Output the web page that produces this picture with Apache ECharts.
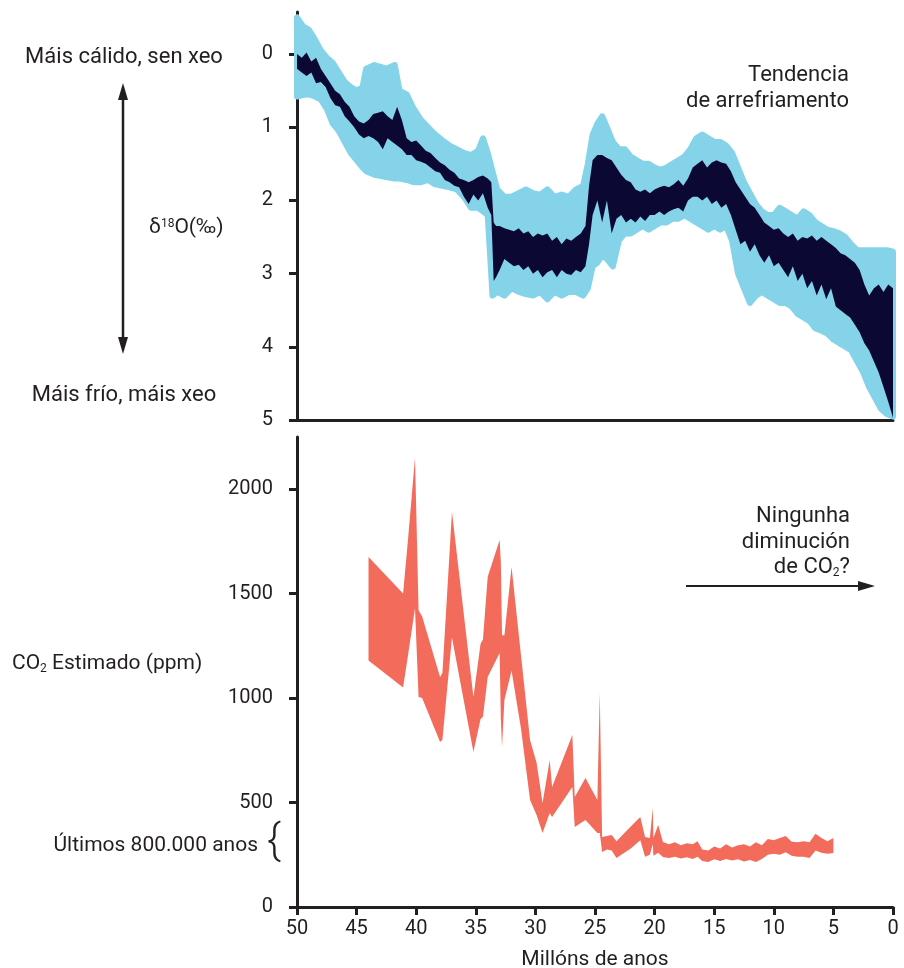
<!DOCTYPE html>
<html>
<head>
<meta charset="utf-8">
<script src="https://cdn.jsdelivr.net/npm/echarts@6/dist/echarts.min.js"></script>
<style>
html,body{margin:0;padding:0;background:#fff;}
#chart{width:904px;height:968px;}
</style>
</head>
<body>
<div id="chart"></div>
<script>
// ---------- δ18O dark (navy) band ----------
const navyAges = [50.0,49.6,49.2,48.8,48.4,48.0,47.6,47.2,46.8,46.4,46.0,45.6,45.2,44.8,44.4,44.0,43.6,43.2,42.8,42.4,42.0,41.6,41.2,40.8,40.4,40.0,39.6,39.2,38.8,38.4,38.0,37.6,37.2,36.8,36.4,36.0,35.6,35.2,34.8,34.4,34.0,33.7,33.5,33.3,33.0,32.6,32.2,31.8,31.4,31.0,30.6,30.2,29.8,29.4,29.0,28.6,28.2,27.8,27.4,27.0,26.6,26.2,25.8,25.5,25.2,24.8,24.4,24.0,23.6,23.2,22.8,22.4,22.0,21.6,21.2,20.8,20.4,20.0,19.6,19.2,18.8,18.4,18.0,17.6,17.2,16.8,16.4,16.0,15.6,15.2,14.8,14.4,14.0,13.6,13.2,12.8,12.4,12.0,11.6,11.2,10.8,10.4,10.0,9.6,9.2,8.8,8.4,8.0,7.6,7.2,6.8,6.4,6.0,5.6,5.2,4.8,4.4,4.0,3.6,3.2,2.8,2.4,2.0,1.6,1.2,0.8,0.4,0.0];
const navyTop = [0.0,0.05,-0.02,0.1,0.05,0.2,0.3,0.4,0.5,0.55,0.65,0.72,0.85,0.92,0.95,0.9,0.82,0.8,0.78,0.85,0.9,0.72,0.9,1.15,1.2,1.18,1.25,1.32,1.35,1.42,1.48,1.52,1.58,1.62,1.7,1.72,1.75,1.72,1.68,1.66,1.7,1.75,2.3,2.35,2.35,2.38,2.4,2.42,2.38,2.45,2.42,2.5,2.45,2.48,2.45,2.55,2.5,2.6,2.52,2.55,2.5,2.45,2.35,1.8,1.45,1.38,1.38,1.42,1.45,1.55,1.65,1.72,1.75,1.85,1.88,1.85,1.9,1.85,1.82,1.8,1.82,1.78,1.72,1.8,1.7,1.55,1.5,1.45,1.55,1.48,1.45,1.48,1.5,1.6,1.75,1.85,1.95,2.05,2.1,2.2,2.3,2.35,2.4,2.38,2.45,2.5,2.45,2.55,2.5,2.52,2.48,2.55,2.5,2.55,2.6,2.65,2.72,2.75,2.8,2.85,2.95,3.15,3.3,3.2,3.15,3.25,3.15,3.2];
const navyBot = [0.2,0.25,0.3,0.25,0.4,0.38,0.45,0.6,0.7,0.72,0.85,0.92,1.0,1.1,1.15,1.12,1.15,1.2,1.3,1.15,1.2,1.25,1.3,1.38,1.38,1.45,1.47,1.5,1.55,1.6,1.62,1.72,1.75,1.8,1.82,1.95,2.05,1.92,2.0,1.9,2.1,2.2,3.1,3.05,2.95,2.8,2.85,2.9,2.88,2.95,2.9,3.0,2.95,3.05,2.98,2.95,3.05,2.95,3.0,3.02,2.95,2.98,2.9,2.6,2.2,2.0,2.3,2.0,2.45,2.25,2.2,2.3,2.25,2.3,2.22,2.28,2.2,2.2,2.15,2.2,2.15,2.12,2.1,2.15,2.0,1.95,1.95,2.0,1.95,2.05,2.0,2.1,2.05,2.2,2.4,2.6,2.55,2.7,2.6,2.75,2.85,2.75,2.9,2.85,2.95,3.05,2.9,3.1,3.0,3.2,3.1,3.3,3.15,3.35,3.2,3.45,3.5,3.55,3.6,3.7,3.8,3.95,4.05,4.2,4.35,4.55,4.75,4.97];

// ---------- δ18O light-blue band ----------
const blueAges = [50.0,49.5,49.0,48.5,48.0,47.5,47.0,46.5,46.0,45.5,45.0,44.5,44.2,43.5,42.5,41.8,41.4,40.8,40.2,39.6,39.0,38.4,37.8,37.2,36.6,36.0,35.4,34.8,34.4,34.0,33.6,33.2,32.6,32.0,31.4,30.8,30.2,29.6,29.0,28.4,27.8,27.2,26.6,26.0,25.6,25.2,24.8,24.4,24.0,23.5,23.0,22.5,22.0,21.5,21.0,20.5,20.0,19.5,19.0,18.5,18.0,17.5,17.0,16.5,16.0,15.5,15.0,14.5,14.0,13.5,13.0,12.5,12.0,11.5,11.0,10.5,10.0,9.5,9.0,8.5,8.0,7.5,7.0,6.5,6.0,5.5,5.0,4.5,4.0,3.5,3.0,2.5,2.0,1.5,1.0,0.5,0.0];
const blueTop = [-0.5,-0.38,-0.33,-0.2,-0.05,0.05,0.12,0.25,0.38,0.45,0.5,0.45,0.2,0.15,0.2,0.15,0.5,0.55,0.75,0.9,1.0,1.1,1.18,1.25,1.3,1.35,1.38,1.32,1.15,1.35,1.6,1.85,1.95,1.95,1.9,1.85,1.9,1.92,1.85,1.95,1.92,1.95,1.85,1.8,1.5,1.1,0.95,0.85,1.0,1.2,1.3,1.3,1.4,1.45,1.5,1.5,1.55,1.58,1.55,1.5,1.45,1.4,1.3,1.15,1.1,1.15,1.2,1.2,1.25,1.35,1.55,1.75,1.9,2.05,2.15,2.2,2.2,2.1,2.15,2.2,2.25,2.15,2.2,2.3,2.35,2.4,2.42,2.45,2.5,2.6,2.68,2.68,2.68,2.68,2.68,2.68,2.7];
const blueBot = [0.58,0.56,0.55,0.58,0.62,0.75,0.95,1.05,1.2,1.35,1.45,1.55,1.6,1.65,1.68,1.7,1.7,1.72,1.75,1.75,1.72,1.78,1.8,1.82,1.85,1.95,2.1,2.1,2.15,2.2,3.3,3.25,3.3,3.2,3.25,3.28,3.3,3.25,3.35,3.25,3.3,3.25,3.25,3.3,3.2,2.9,2.85,2.75,2.8,2.9,2.55,2.45,2.45,2.4,2.35,2.4,2.35,2.3,2.3,2.25,2.25,2.2,2.25,2.3,2.35,2.4,2.35,2.4,2.35,2.55,3.0,3.2,3.4,3.3,3.25,3.3,3.35,3.4,3.4,3.45,3.55,3.6,3.65,3.75,3.78,3.82,3.9,3.95,4.0,4.05,4.2,4.35,4.55,4.7,4.85,4.92,4.95];

// ---------- CO2 band ----------
const co2Ages = [44.0,41.1,40.7,40.1,39.8,39.5,38.0,37.8,37.0,35.2,34.6,34.4,34.0,33.0,32.9,32.8,32.6,32.0,31.2,30.45,29.9,29.4,28.8,28.6,26.9,26.7,25.8,24.8,24.6,24.4,24.0,23.6,23.2,22.0,21.2,20.8,20.4,20.15,20.1,19.7,19.3,18.8,18.3,17.8,17.3,16.8,16.4,16.0,15.5,15.0,14.5,14.0,13.5,13.0,12.5,12.0,11.5,11.0,10.5,10.0,9.5,9.0,8.5,8.0,7.5,7.0,6.5,6.0,5.5,5.0];
const co2High = [1675,1500,1750,2150,1420,1390,1100,1120,1890,1005,1260,1280,1580,1756,1650,1300,1300,1627,1200,799,690,498,703,574,823,526,617,512,1024,335,340,345,315,385,431,335,330,474,330,392,311,300,310,295,305,300,315,275,270,290,280,300,285,295,300,290,310,295,325,320,330,340,312,310,315,310,350,330,315,330];
const co2Low = [1180,1050,1200,1430,1005,1000,790,800,1290,742,900,910,1100,1215,900,766,990,1130,850,512,440,354,450,431,574,383,416,354,354,263,275,270,235,280,320,240,250,300,245,260,239,235,240,232,238,230,240,220,215,228,220,230,222,228,218,225,215,230,250,255,250,262,245,240,240,235,270,260,255,258];

// ---------- tick labels ----------
const d18Ticks = [0, 1, 2, 3, 4, 5];
const co2Ticks = [0, 500, 1000, 1500, 2000];
const ageTicks = [50, 45, 40, 35, 30, 25, 20, 15, 10, 5, 0];

const INK = '#231f20';
const FONT = 'Roboto';

function band(xi, yi, ages, lo, hi, color, strokeW) {
  return {
    type: 'custom', xAxisIndex: xi, yAxisIndex: yi, silent: true, animation: false, clip: false,
    data: ages.map((a, i) => [a, lo[i], hi[i]]),
    encode: { x: 0, y: [1, 2] },
    renderItem: function (params, api) {
      if (params.dataIndex !== 0) return null;
      const pts = [];
      for (let i = 0; i < ages.length; i++) pts.push(api.coord([ages[i], hi[i]]));
      for (let i = ages.length - 1; i >= 0; i--) pts.push(api.coord([ages[i], lo[i]]));
      return {
        type: 'polygon', shape: { points: pts },
        style: { fill: color, stroke: strokeW ? color : null, lineWidth: strokeW || 0, lineJoin: 'round' }
      };
    }
  };
}

const axisLine = { show: true, onZero: false, lineStyle: { color: INK, width: 3 } };
const tickStyle = { color: INK, width: 3 };
const labelStyle = { color: INK, fontSize: 20, fontFamily: FONT, formatter: function (v) { return String(v); } };

const chart = echarts.init(document.getElementById('chart'), null, { renderer: 'canvas' });
const option = {
  backgroundColor: '#fff',
  animation: false,
  textStyle: { fontFamily: FONT },
  grid: [
    { left: 297, top: 12, width: 596, height: 408, containLabel: false, outerBoundsMode: 'none' },
    { left: 297, top: 437, width: 596, height: 470, containLabel: false, outerBoundsMode: 'none' }
  ],
  xAxis: [
    { gridIndex: 0, type: 'value', min: 0, max: 50, inverse: true, axisLine: axisLine,
      axisTick: { show: false }, axisLabel: { show: false }, splitLine: { show: false } },
    { gridIndex: 1, type: 'value', min: 0, max: 50, interval: 5, inverse: true, axisLine: axisLine,
      axisTick: { show: true, length: 8, lineStyle: tickStyle, customValues: ageTicks },
      axisLabel: Object.assign({ margin: 12, customValues: ageTicks }, labelStyle),
      splitLine: { show: false },
      name: 'Millóns de anos', nameLocation: 'middle', nameGap: 42,
      nameTextStyle: { color: INK, fontSize: 21, fontFamily: FONT } }
  ],
  yAxis: [
    { gridIndex: 0, type: 'value', min: -0.575, max: 5, inverse: true, axisLine: axisLine,
      axisTick: { show: true, length: 8, lineStyle: tickStyle, customValues: d18Ticks },
      axisLabel: Object.assign({ margin: 24, customValues: d18Ticks }, labelStyle),
      splitLine: { show: false } },
    { gridIndex: 1, type: 'value', min: 0, max: 2249, axisLine: axisLine,
      axisTick: { show: true, length: 8, lineStyle: tickStyle, customValues: co2Ticks },
      axisLabel: Object.assign({ margin: 24, customValues: co2Ticks }, labelStyle),
      splitLine: { show: false } }
  ],
  series: [
    band(0, 0, blueAges, blueTop, blueBot, '#84d3e8', 6),
    band(0, 0, navyAges, navyTop, navyBot, '#0b0934', 0),
    band(1, 1, co2Ages, co2Low, co2High, '#f26b5b', 0)
  ],
  graphic: [
    { type: 'text', x: 124, y: 57, style: { text: 'Máis cálido, sen xeo', fill: INK, font: '22px ' + FONT, textAlign: 'center', textVerticalAlign: 'middle' } },
    { type: 'text', x: 124, y: 395, style: { text: 'Máis frío, máis xeo', fill: INK, font: '22px ' + FONT, textAlign: 'center', textVerticalAlign: 'middle' } },
    { type: 'line', shape: { x1: 123, y1: 95, x2: 123, y2: 342 }, style: { stroke: INK, lineWidth: 2.5 } },
    { type: 'polygon', shape: { points: [[123, 83], [118, 100], [128, 100]] }, style: { fill: INK } },
    { type: 'polygon', shape: { points: [[123, 354], [118, 337], [128, 337]] }, style: { fill: INK } },
    { type: 'text', x: 149, y: 228, style: { text: '{a|δ}{s|18}{a|O(‰)}', textVerticalAlign: 'middle',
        rich: { a: { fontSize: 21, fontFamily: FONT, fill: INK }, s: { fontSize: 12, fontFamily: FONT, fill: INK, padding: [0, 0, 9, 0] } } } },
    { type: 'text', x: 849, y: 88, style: { text: 'Tendencia\nde arrefriamento', fill: INK, font: '22px ' + FONT, textAlign: 'right', textVerticalAlign: 'middle', lineHeight: 26 } },
    { type: 'text', x: 850, y: 542, style: { text: '{a|Ningunha}\n{a|diminución}\n{a|de CO}{s|2}{a|?}', textAlign: 'right', textVerticalAlign: 'middle',
        rich: { a: { fontSize: 22, fontFamily: FONT, fill: INK, lineHeight: 25.5 }, s: { fontSize: 12, fontFamily: FONT, fill: INK, padding: [10, 0, 0, 0], lineHeight: 25.5 } } } },
    { type: 'line', shape: { x1: 686, y1: 586, x2: 862, y2: 586 }, style: { stroke: INK, lineWidth: 2 } },
    { type: 'polygon', shape: { points: [[875, 586], [858, 581], [858, 591]] }, style: { fill: INK } },
    { type: 'text', x: 12, y: 664, style: { text: '{a|CO}{s|2}{a| Estimado (ppm)}', textVerticalAlign: 'middle',
        rich: { a: { fontSize: 21, fontFamily: FONT, fill: INK }, s: { fontSize: 12, fontFamily: FONT, fill: INK, padding: [10, 0, 0, 0] } } } },
    { type: 'text', x: 258, y: 846, style: { text: 'Últimos 800.000 anos', fill: INK, font: '21px ' + FONT, textAlign: 'right', textVerticalAlign: 'middle' } },
    { type: 'text', x: 274, y: 843, style: { text: '{', fill: INK, font: '300 42px ' + FONT, textAlign: 'center', textVerticalAlign: 'middle' } }
  ]
};
chart.setOption(option);
</script>
</body>
</html>
